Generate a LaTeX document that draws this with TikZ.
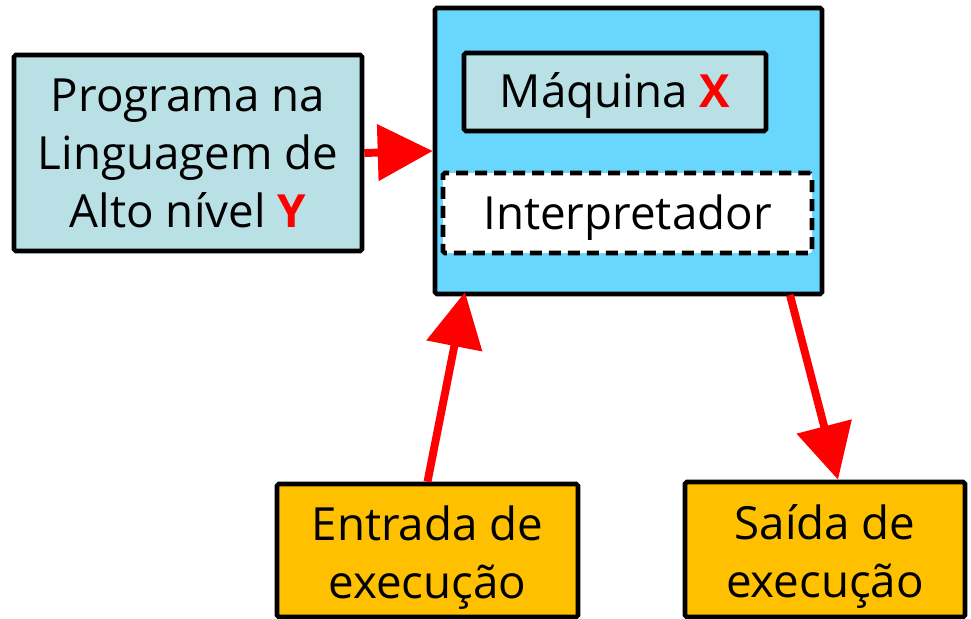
\documentclass[tikz,border=0pt]{standalone}
\usepackage{fontspec}
\setmainfont{Open Sans}
\usetikzlibrary{arrows.meta,positioning}
\definecolor{caixa}{HTML}{B9E0E4}
\definecolor{maquina}{HTML}{69D6FE}
\definecolor{laranja}{HTML}{FFC000}
\begin{document}
\begin{tikzpicture}[every node/.style={draw,line width=2.6pt,rounded corners=1pt,align=center,font=\fontsize{26}{33}\selectfont},
		seta/.style={red,line width=4.5pt,-{Triangle[length=1.1cm,width=1.1cm]}}]
			\useasboundingbox (0,0) rectangle (19.42,-12.38);
			\node[fill=caixa,minimum width=6.96cm,minimum height=3.92cm](Prog) at (3.76,-3.06) {Programa na\\Linguagem de\\Alto nível {\color{red}\bfseries Y}};
			\node[fill=maquina,minimum width=7.74cm,minimum height=5.72cm](Maq) at (12.57,-3.02) {};
			\node[fill=caixa,minimum width=6.04cm,minimum height=1.56cm,text depth=0.1cm](MaqX) at (12.3,-1.84) {Máquina {\color{red}\bfseries X}};
			\node[fill=white,dash pattern=on 0.24cm off 0.14cm,minimum width=7.38cm,minimum height=1.6cm,text depth=0.05cm](Interp) at (12.55,-4.26) {Interpretador};
			\node[fill=laranja,minimum width=6.02cm,minimum height=2.66cm,text height=2.15cm](Entrada) at (8.55,-11.01) {Entrada de\\execução};
			\node[fill=laranja,minimum width=5.6cm,minimum height=2.7cm,text height=2.15cm](Saida) at (16.5,-10.99) {Saída de\\execução};
			\coordinate (InTip) at (9.3,-5.84);
			\coordinate (OutStart) at (15.8,-5.9);
			\draw[seta] (Prog.east) -- (Maq.west);
			\draw[seta] (Entrada.north) -- (InTip);
			\draw[seta] (OutStart) -- ([xshift=0.26cm]Saida.north);
		\end{tikzpicture}
\end{document}
